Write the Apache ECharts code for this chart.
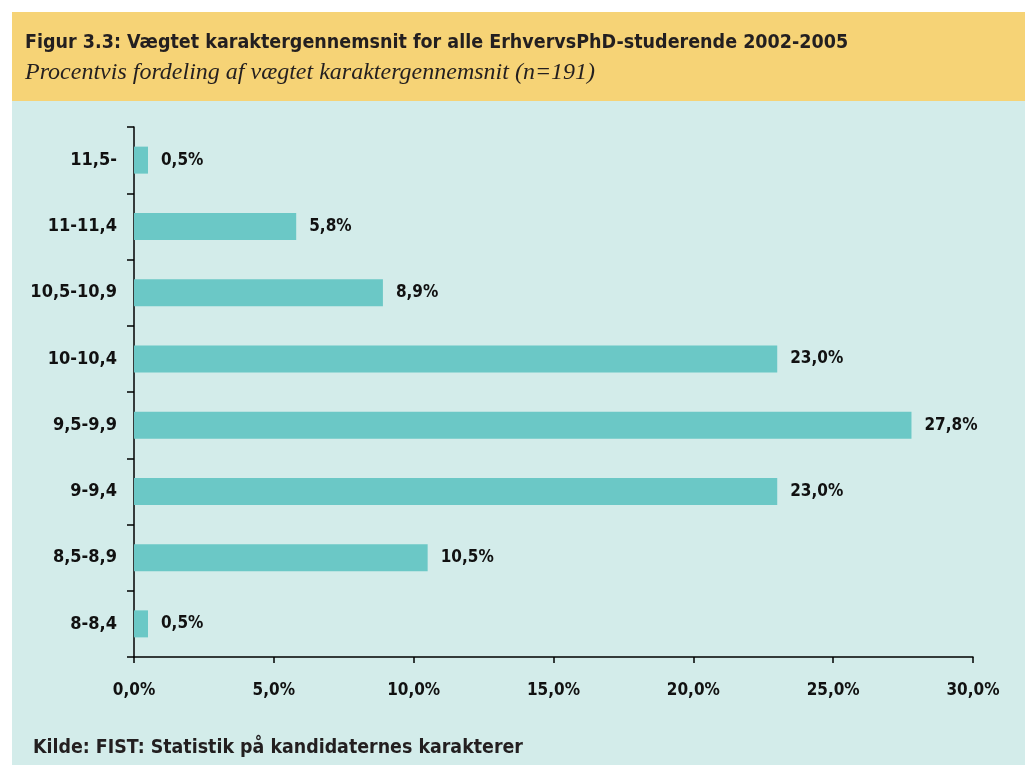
<!DOCTYPE html>
<html>
<head>
<meta charset="utf-8">
<script src="https://cdn.jsdelivr.net/npm/echarts@6/dist/echarts.min.js"></script>
<style>
  html, body { margin: 0; padding: 0; background: #ffffff; }
  #main { width: 1025px; height: 765px; }
</style>
</head>
<body>
<div id="main"></div>
<script>
// kategorier (nederst -> øverst)
var kategorier = ['8-8,4', '8,5-8,9', '9-9,4', '9,5-9,9', '10-10,4', '10,5-10,9', '11-11,4', '11,5-'];
var procent = [0.5, 10.5, 23.0, 27.8, 23.0, 8.9, 5.8, 0.5];
var akseTicks = [0, 5, 10, 15, 20, 25, 30];

var font = '"DejaVu Sans Condensed", "Roboto", sans-serif';

function fmt(v) {
    return v.toFixed(1).replace('.', ',') + '%';
}

var myChart = echarts.init(document.getElementById('main'));
myChart.setOption({
    backgroundColor: '#ffffff',
    animation: false,
    graphic: [
        {
            type: 'rect', z: -10,
            shape: {x: 12, y: 12, width: 1013, height: 89},
            style: {fill: '#f6d376'}
        },
        {
            type: 'rect', z: -10,
            shape: {x: 12, y: 101, width: 1013, height: 664},
            style: {fill: '#d3ecea'}
        },
        {
            type: 'text', left: 25, top: 33,
            style: {
                text: 'Figur 3.3: Vægtet karaktergennemsnit for alle ErhvervsPhD-studerende 2002-2005',
                font: 'bold 19.5px ' + font, fill: '#231f20'
            }
        },
        {
            type: 'text', left: 25, top: 61,
            style: {
                text: 'Procentvis fordeling af vægtet karaktergennemsnit (n=191)',
                font: 'italic 24px "Liberation Serif", serif', fill: '#231f20'
            }
        },
        {
            type: 'text', left: 33, top: 738,
            style: {
                text: 'Kilde: FIST: Statistik på kandidaternes karakterer',
                font: 'bold 19.4px ' + font, fill: '#231f20'
            }
        }
    ],
    grid: {
        left: 134, right: 52, top: 127, bottom: 108,
        containLabel: false
    },
    xAxis: {
        type: 'value',
        min: akseTicks[0],
        max: akseTicks[akseTicks.length - 1],
        interval: 5,
        splitLine: {show: false},
        axisLine: {show: true, lineStyle: {color: '#000', width: 1.5}},
        axisTick: {show: true, length: 6, lineStyle: {color: '#000', width: 1.5}},
        axisLabel: {
            margin: 25,
            color: '#111',
            fontFamily: font,
            fontWeight: 'bold',
            fontSize: 17,
            formatter: function (v) { return fmt(v); }
        }
    },
    yAxis: {
        type: 'category',
        data: kategorier,
        axisLine: {show: true, lineStyle: {color: '#000', width: 1.5}},
        axisTick: {show: true, length: 7, lineStyle: {color: '#000', width: 1.5}},
        axisLabel: {
            margin: 17,
            color: '#111',
            fontFamily: font,
            fontWeight: 'bold',
            fontSize: 18,
            padding: [5, 0, 0, 0]
        }
    },
    series: [
        {
            type: 'bar',
            data: procent,
            barWidth: 27,
            itemStyle: {color: '#6bc8c6'},
            label: {
                show: true,
                position: 'right',
                distance: 13,
                color: '#111',
                fontFamily: font,
                fontWeight: 'bold',
                fontSize: 17,
                padding: [5, 0, 0, 0],
                formatter: function (p) { return fmt(p.value); }
            }
        }
    ]
});
</script>
</body>
</html>
